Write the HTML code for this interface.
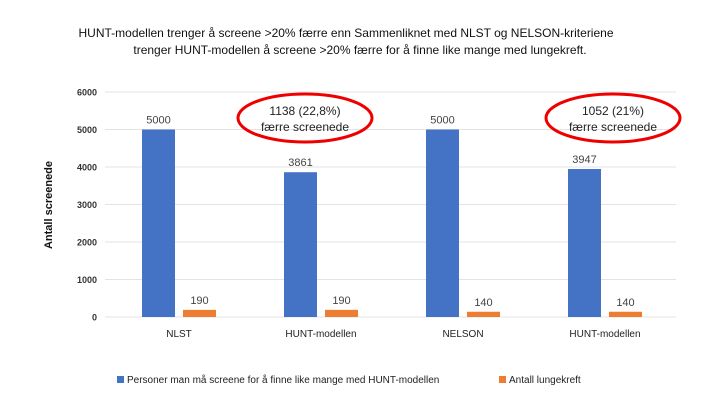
<!DOCTYPE html>
<html><head><meta charset="utf-8"><style>
body{margin:0;background:#fff;font-family:"Liberation Sans",sans-serif}
svg text{font-family:"Liberation Sans",sans-serif}
</style></head><body>
<svg id="c" width="706" height="403">
<text x="346" y="37" font-size="12" text-anchor="middle" fill="#111">HUNT-modellen trenger å screene &gt;20% færre enn Sammenliknet med NLST og NELSON-kriteriene</text>
<text x="360" y="54" font-size="12" text-anchor="middle" fill="#111">trenger HUNT-modellen å screene &gt;20% færre for å finne like mange med lungekreft.</text>
<text transform="translate(52,205) rotate(-90)" font-size="11" font-weight="bold" text-anchor="middle" fill="#111">Antall screenede</text>
<g id="grid"></g><g id="bars"></g>
<ellipse cx="305" cy="118" rx="67" ry="24" fill="none" stroke="#e00" stroke-width="3"/>
<text x="305" y="115" font-size="12" text-anchor="middle" fill="#222">1138 (22,8%)</text>
<text x="305" y="131" font-size="12" text-anchor="middle" fill="#222">færre screenede</text>
<ellipse cx="613" cy="118" rx="67" ry="24" fill="none" stroke="#e00" stroke-width="3"/>
<text x="613" y="115" font-size="12" text-anchor="middle" fill="#222">1052 (21%)</text>
<text x="613" y="131" font-size="12" text-anchor="middle" fill="#222">færre screenede</text>
<rect x="117" y="376" width="7" height="7" fill="#4472c4"/>
<text x="127" y="383" font-size="10" fill="#222">Personer man må screene for å finne like mange med HUNT-modellen</text>
<rect x="499" y="376" width="7" height="7" fill="#ed7d31"/>
<text x="509" y="383" font-size="10" fill="#222">Antall lungekreft</text>
</svg>
<script>
const categories=["NLST","HUNT-modellen","NELSON","HUNT-modellen"];
const screened=[5000,3861,5000,3947];
const cancer=[190,190,140,140];
const yTicks=[0,1000,2000,3000,4000,5000,6000];
const NS="http://www.w3.org/2000/svg";
const y0=317,yTop=92,yMax=6000,x0=108,step=142,bw=33;
const y=v=>y0-(v/yMax)*(y0-yTop);
const xc=i=>x0+step*(i+0.5);
function mk(t,a,p){const e=document.createElementNS(NS,t);for(const k in a)e.setAttribute(k,a[k]);p.appendChild(e);return e;}
const g=document.getElementById('grid'),b=document.getElementById('bars');
yTicks.forEach(v=>{
 const l=mk('line',{x1:105,x2:676,y1:y(v),y2:y(v),stroke:'#e3e3e3','stroke-width':1},g);
 
 
 const t=mk('text',{x:97,y:y(v)+3.5,'font-size':9,'font-weight':'bold','text-anchor':'end',fill:'#333'},g);
 t.textContent=v;
 
 
});
categories.forEach((c,i)=>{
 const cx=xc(i);
 const r1=mk('rect',{x:cx-bw-4,y:y(screened[i]),width:bw,height:y0-y(screened[i]),fill:'#4472c4'},b);
 
 
 const t1=mk('text',{x:cx-4-bw/2,y:y(screened[i])-6,'font-size':11,'text-anchor':'middle',fill:'#444'},b);
 t1.textContent=screened[i];
 
 
 const r2=mk('rect',{x:cx+4,y:y(cancer[i]),width:bw,height:y0-y(cancer[i]),fill:'#ed7d31'},b);
 
 
 const t2=mk('text',{x:cx+4+bw/2,y:y(cancer[i])-6,'font-size':11,'text-anchor':'middle',fill:'#444'},b);
 t2.textContent=cancer[i];
 
 
 const t3=mk('text',{x:cx,y:337,'font-size':10,'text-anchor':'middle',fill:'#222'},b);
 t3.textContent=c;
 
 
});
</script>
</body></html>
